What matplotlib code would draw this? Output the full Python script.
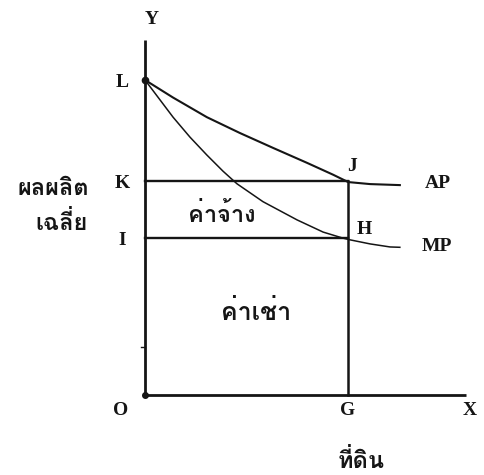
import matplotlib
matplotlib.use("Agg")
import matplotlib.pyplot as plt
from matplotlib import font_manager
from matplotlib.ft2font import FT2Font

# Curve data (x = land, y = average/marginal product)
ap_x = [0.0, 0.83, 1.83, 2.81, 3.79, 4.79, 5.56, 6.01, 6.66, 7.54]
ap_y = [9.32, 8.80, 8.22, 7.75, 7.31, 6.87, 6.52, 6.30, 6.24, 6.21]
mp_x = [0.0, 0.83, 1.33, 1.83, 2.31, 2.72, 3.49, 4.50, 5.27, 5.86, 6.07, 6.66, 7.25, 7.54]
mp_y = [9.32, 8.22, 7.63, 7.10, 6.62, 6.25, 5.72, 5.18, 4.82, 4.64, 4.59, 4.47, 4.38, 4.37]

x_axis_end = 9.5
y_axis_end = 10.5
G = 6.0
K = 6.33
I = 4.64
L = 9.32

# Find a font that can draw Thai
thai_font = None
for f in font_manager.fontManager.ttflist:
    try:
        if 0x0E1C in FT2Font(f.fname).get_charmap():
            thai_font = f.name
            break
    except Exception:
        pass
thai_family = [thai_font, 'DejaVu Sans'] if thai_font else ['DejaVu Sans']

ink = '#151515'
fig = plt.figure(figsize=(4.84, 4.75), dpi=100)
ax = fig.add_axes([0, 0, 1, 1])
sc = 33.8
ax.set_xlim(-145 / sc, (484 - 145) / sc)
ax.set_ylim((395 - 475) / sc, 395 / sc)
ax.axis('off')

# axes
ax.plot([0, 0], [0, y_axis_end], color=ink, lw=2.0, solid_capstyle='butt')
ax.plot([0, x_axis_end], [0, 0], color=ink, lw=2.0, solid_capstyle='butt')
ax.plot([0], [0], 'o', color=ink, ms=4)
ax.plot([0], [L], 'o', color=ink, ms=4.5)
ax.plot([-0.12, 0], [1.42, 1.42], color=ink, lw=1.0)

# rectangles
ax.plot([0, G], [K, K], color=ink, lw=1.7)
ax.plot([0, G], [I, I], color=ink, lw=1.7)
ax.plot([G, G], [0, K], color=ink, lw=1.8)

# curves
ax.plot(ap_x, ap_y, color=ink, lw=1.5, solid_joinstyle='round')
ax.plot(mp_x, mp_y, color=ink, lw=1.1, solid_joinstyle='round')

serif = dict(family='Liberation Serif', fontweight='bold', fontsize=14, color=ink)
ax.text(0.2, 11.1, 'Y', ha='center', va='center', **serif)
ax.text(-0.68, 9.26, 'L', ha='center', va='center', **serif)
ax.text(-0.68, 6.27, 'K', ha='center', va='center', **serif)
ax.text(-0.68, 4.58, 'I', ha='center', va='center', **serif)
ax.text(-0.72, -0.45, 'O', ha='center', va='center', **serif)
ax.text(G, -0.45, 'G', ha='center', va='center', **serif)
ax.text(9.6, -0.45, 'X', ha='center', va='center', **serif)
ax.text(6.12, 6.75, 'J', ha='center', va='center', **serif)
ax.text(6.5, 4.91, 'H', ha='center', va='center', **serif)
ax.text(8.67, 6.27, 'AP', ha='center', va='center', **serif)
ax.text(8.64, 4.38, 'MP', ha='center', va='center', **serif)

thai = dict(family=thai_family, fontweight='bold', color=ink)
ax.text(-2.72, 5.92, 'ผลผลิต', ha='center', va='baseline', fontsize=17, **thai)
ax.text(-2.46, 4.88, 'เฉลี่ย', ha='center', va='baseline', fontsize=17, **thai)
ax.text(2.28, 5.12, 'ค่าจ้าง', ha='center', va='baseline', fontsize=17, **thai)
ax.text(3.28, 2.22, 'ค่าเช่า', ha='center', va='baseline', fontsize=18, **thai)
ax.text(6.39, -2.16, 'ที่ดิน', ha='center', va='baseline', fontsize=17, **thai)

fig.savefig('out.png', dpi=100)
